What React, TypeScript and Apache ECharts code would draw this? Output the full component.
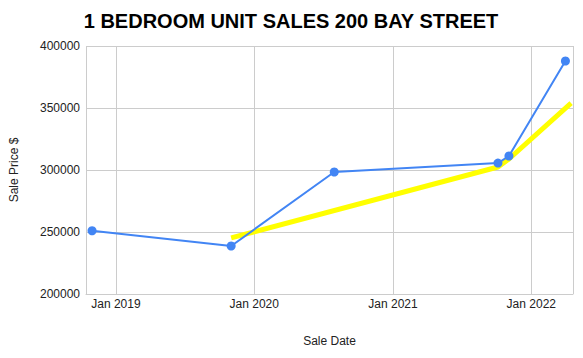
import React, { useEffect, useRef } from "react";
import * as echarts from "echarts";

const saleDates = ["2018-10-30", "2019-11-01", "2020-07-30", "2021-10-05", "2021-11-03", "2022-04-01"];
const salePrices = [251000, 238700, 298400, 305600, 311300, 387900];

const trendDates = ["2019-11-01", "2021-10-05", "2021-11-03", "2022-04-16"];
const trendValues = [245200, 302400, 308900, 354000];

const yTicks = [200000, 250000, 300000, 350000, 400000];

const toTs = (s: string) => {
  const [y, m, d] = s.split("-").map(Number);
  return new Date(y, m - 1, d).getTime();
};

export default function App() {
  const ref = useRef<HTMLDivElement>(null);
  useEffect(() => {
    if (!ref.current) return;
    const chart = echarts.init(ref.current, null, { renderer: "svg" });
    const DAY = 24 * 3600 * 1000;
    chart.setOption({
      animation: false,
      backgroundColor: "#ffffff",
      title: {
        text: "1 BEDROOM UNIT SALES 200 BAY STREET",
        left: 286,
        textAlign: "center",
        top: 6,
        textStyle: { fontFamily: "Liberation Sans, Arial", fontSize: 20, fontWeight: "bold", color: "#000" },
      },
      grid: { left: 86, right: 10, top: 46, bottom: 64 },
      xAxis: {
        type: "time",
        min: toTs("2018-10-14"),
        max: toTs("2022-04-21"),
        minInterval: 365 * DAY,
        maxInterval: 366 * DAY,
        name: "Sale Date",
        nameLocation: "middle",
        nameGap: 41,
        nameTextStyle: { fontFamily: "Liberation Sans, Arial", fontSize: 12, color: "#222" },
        axisLine: { show: true, lineStyle: { color: "#cccccc", width: 1 } },
        axisTick: { show: false },
        splitLine: { show: true, lineStyle: { color: "#cccccc", width: 1 } },
        axisLabel: {
          showMinLabel: false,
          showMaxLabel: false,
          margin: 4,
          fontFamily: "Liberation Sans, Arial",
          fontSize: 12,
          color: "#222",
          formatter: (v: number) => "Jan " + new Date(v).getFullYear(),
        },
      },
      yAxis: {
        type: "value",
        min: yTicks[0],
        max: yTicks[yTicks.length - 1],
        interval: 50000,
        name: "Sale Price $",
        nameLocation: "middle",
        nameGap: 66,
        nameTextStyle: { fontFamily: "Liberation Sans, Arial", fontSize: 12, color: "#222" },
        axisLine: { show: false },
        axisTick: { show: false },
        splitLine: { show: true, lineStyle: { color: "#cccccc", width: 1 } },
        axisLabel: {
          margin: 6,
          fontFamily: "Liberation Sans, Arial",
          fontSize: 12,
          color: "#222",
          formatter: (v: number) => String(v),
        },
      },
      series: [
        {
          type: "line",
          data: trendDates.map((d, i) => [toTs(d), trendValues[i]]),
          showSymbol: false,
          symbol: "none",
          lineStyle: { color: "#ffff00", width: 5 },
          z: 1,
        },
        {
          type: "line",
          data: saleDates.map((d, i) => [toTs(d), salePrices[i]]),
          symbol: "circle",
          symbolSize: 9,
          itemStyle: { color: "#4285f4" },
          lineStyle: { color: "#4285f4", width: 2 },
          z: 2,
        },
      ],
    });
    return () => chart.dispose();
  }, []);
  return <div ref={ref} style={{ width: 583, height: 358, position: "absolute", left: 0, top: 0 }} />;
}
